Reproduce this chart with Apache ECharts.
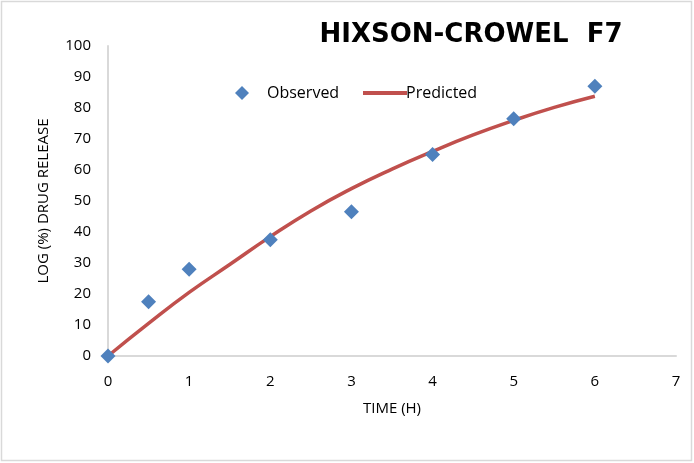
<!DOCTYPE html>
<html><head><meta charset="utf-8">
<script src="https://cdn.jsdelivr.net/npm/echarts@6/dist/echarts.min.js"></script>
<style>html,body{margin:0;padding:0;background:#fff}#c{width:694px;height:463px}</style>
</head><body><div id="c"></div>
<script>
const observedTime = [0, 0.5, 1, 2, 3, 4, 5, 6];
const observedRelease = [0, 17.5, 28, 37.5, 46.5, 65, 76.5, 87];
const predictedTime = [0, 0.5, 1, 1.5, 2, 2.5, 3, 3.5, 4, 4.5, 5, 5.5, 6];
const predictedRelease = [0, 10.5, 20.5, 29.5, 38.5, 46.8, 54, 60.3, 66, 71.3, 76, 80.2, 83.8];
const xTicks = [0, 1, 2, 3, 4, 5, 6, 7];
const yTicks = [0, 10, 20, 30, 40, 50, 60, 70, 80, 90, 100];

const chart = echarts.init(document.getElementById('c'), null, {renderer: 'canvas'});
const font = 'Open Sans';
chart.setOption({
  animation: false,
  backgroundColor: '#fff',
  title: {
    text: 'HIXSON-CROWEL  F7',
    left: 466, top: 17, textAlign: 'center',
    textStyle: {fontFamily: 'DejaVu Sans', fontWeight: 'bold', fontSize: 26, color: '#000'}
  },
  graphic: [{type: 'rect', shape: {x: 1.5, y: 1.5, width: 690, height: 459}, style: {fill: null, stroke: '#d9d9d9', lineWidth: 1.5}, silent: true}],
  legend: [{
    data: [{name: 'Observed', icon: 'diamond'}],
    left: 230, top: 80, itemWidth: 14, itemHeight: 14,
    textStyle: {fontFamily: font, fontSize: 16, color: '#000', padding: [0, 0, 0, 13]}
  }, {
    data: [{name: 'Predicted', icon: 'rect'}],
    left: 358, top: 80, itemWidth: 44, itemHeight: 4,
    itemStyle: {color: '#C0504D'},
    textStyle: {fontFamily: font, fontSize: 16, color: '#000', padding: [0, 0, 0, -6]}
  }],
  grid: {left: 108, right: 18, top: 46, bottom: 107, containLabel: false},
  xAxis: {
    type: 'value', min: 0, max: 7, interval: 1,
    name: 'TIME (H)', nameLocation: 'middle', nameGap: 45,
    nameTextStyle: {fontFamily: font, fontSize: 15, color: '#000'},
    axisLine: {show: true, lineStyle: {color: '#d9d9d9', width: 2}},
    axisTick: {show: false}, splitLine: {show: false},
    axisLabel: {fontFamily: font, fontSize: 15, color: '#000', margin: 18,
      formatter: v => xTicks.includes(v) ? String(v) : ''}
  },
  yAxis: {
    type: 'value', min: 0, max: 100, interval: 10,
    name: 'LOG (%) DRUG RELEASE', nameLocation: 'middle', nameGap: 57,
    nameTextStyle: {fontFamily: font, fontSize: 15, color: '#000'},
    axisLine: {show: true, lineStyle: {color: '#d9d9d9', width: 2}},
    axisTick: {show: false}, splitLine: {show: false},
    axisLabel: {fontFamily: font, fontSize: 15, color: '#000', margin: 17,
      formatter: v => yTicks.includes(v) ? String(v) : ''}
  },
  series: [{
    name: 'Predicted', type: 'line', smooth: true, showSymbol: false, z: 2,
    data: predictedTime.map((t, i) => [t, predictedRelease[i]]),
    lineStyle: {color: '#C0504D', width: 3.5}, itemStyle: {color: '#C0504D'}
  }, {
    name: 'Observed', type: 'scatter', symbol: 'diamond', symbolSize: 15, z: 3,
    data: observedTime.map((t, i) => [t, observedRelease[i]]),
    itemStyle: {color: '#4F81BD', opacity: 1}
  }]
});
</script></body></html>
